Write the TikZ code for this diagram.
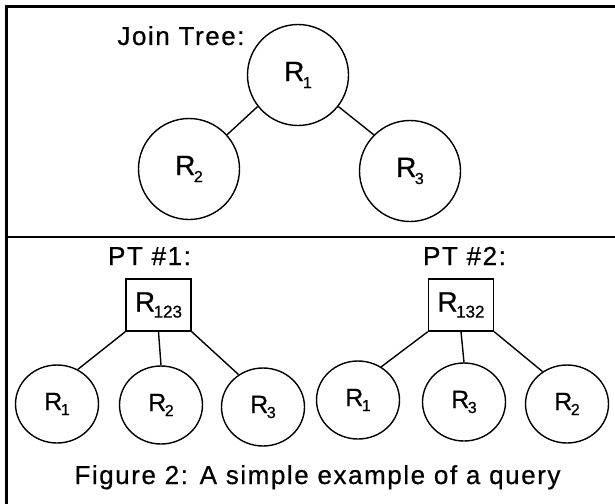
\documentclass[tikz,border=0pt]{standalone}
\usepackage{fontspec}
\setmainfont{Liberation Sans}[FakeBold=0.6]
\newfontfamily\lblfont{Liberation Sans}[LetterSpace=6, FakeBold=0.6]
\usetikzlibrary{shapes.geometric}

% relation name: R with a lowered index
% #1 size of R, #2 size of index, #3 drop of index, #4 index
\newcommand\Rsub[4]{{\fontsize{#1pt}{#1pt}\selectfont R}\kern-1.5pt\raisebox{-#3pt}{\fontsize{#2pt}{#2pt}\selectfont #4}}

\tikzset{
  frameline/.style={line width=2.6pt, line cap=rect},
  relbig/.style={circle, draw, line width=1.4pt, inner sep=0pt, minimum size=101pt},
  relsmall/.style={ellipse, draw, line width=1.4pt, inner sep=0pt, minimum width=83pt, minimum height=78pt},
  planbox/.style={rectangle, draw, line width=1.4pt, inner sep=0pt, minimum width=65pt, minimum height=52pt},
  label/.style={inner sep=0pt, font=\lblfont\fontsize{26pt}{26pt}\selectfont},
  edge/.style={line width=1.4pt}
}

\begin{document}
\begin{tikzpicture}[x=1pt, y=-1pt]
\useasboundingbox (0,0) rectangle (615,503);

% frame: top rule, left rule and the divider between the two panels
\coordinate (ftl) at (6,6.5);
\coordinate (ftr) at (615,6.5);
\coordinate (fbl) at (6,503);
\coordinate (fdl) at (6,237);
\coordinate (fdr) at (615,237);
\draw[frameline] (ftl) -- (ftr);
\draw[frameline, line width=3pt] (ftl) -- (fbl);
\draw[line width=1.6pt] (fdl) -- (fdr);

% join tree
\node[label, anchor=base] (jt) at (181,45) {Join Tree:};
\node[relbig] (j1) at (298,75) {\Rsub{28}{16}{7}{1}};
\node[relbig] (j2) at (189,169) {\Rsub{28}{16}{7}{2}};
\node[relbig] (j3) at (410,171) {\Rsub{28}{16}{7}{3}};
\draw[edge] (j1.218) -- (j2.42);
\draw[edge] (j1.322) -- (j3.135);

% processing tree #1
\node[label, anchor=base] (pt1) at (149.5,265) {PT \#1:};
\node[planbox] (b1) at (158.5,305) {\Rsub{28}{17}{6}{123}};
\node[relsmall] (p1a) at (57,404) {\Rsub{25}{16}{5}{1}};
\node[relsmall] (p1b) at (161,405) {\Rsub{25}{16}{5}{2}};
\node[relsmall] (p1c) at (263,407) {\Rsub{25}{16}{5}{3}};
\draw[edge] (b1.south west) -- (p1a.59);
\draw[edge] (b1.south) -- (p1b.north);
\draw[edge] (b1.south east) -- (p1c.127);

% processing tree #2
\node[label, anchor=base] (pt2) at (464.5,265) {PT \#2:};
\node[planbox] (b2) at (461,305) {\Rsub{28}{17}{6}{132}};
\node[relsmall] (p2a) at (358,400) {\Rsub{25}{16}{5}{1}};
\node[relsmall] (p2b) at (464,402) {\Rsub{25}{16}{5}{3}};
\node[relsmall] (p2c) at (567,404) {\Rsub{25}{16}{5}{2}};
\draw[edge] (b2.south west) -- (p2a.55);
\draw[edge] (b2.south) -- (p2b.north);
\draw[edge] (b2.south east) -- (p2c.127);

% caption
\node[label, anchor=base] (cap) at (317.5,484) {Figure 2: A simple example of a query};
\end{tikzpicture}
\end{document}
